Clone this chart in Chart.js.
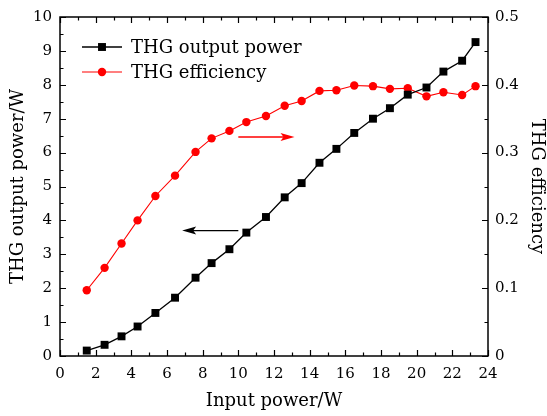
<!DOCTYPE html>
<html>
<head>
<meta charset="utf-8">
<script src="https://cdn.jsdelivr.net/npm/chart.js@4.4.1/dist/chart.umd.min.js"></script>
<style>
  html, body { margin: 0; padding: 0; background: #fff; }
  #wrap { width: 547px; height: 416px; }
</style>
</head>
<body>
<div id="wrap"><canvas id="thgChart" width="547" height="416"></canvas></div>
<script>
// input power (W) for each measurement
const inputPower = [1.5, 2.5, 3.45, 4.35, 5.35, 6.45, 7.6, 8.5, 9.5, 10.45, 11.55, 12.6,
    13.55, 14.55, 15.5, 16.5, 17.55, 18.5, 19.5, 20.55, 21.5, 22.55, 23.3];
// THG output power (W), left axis
const outputPower = [0.16, 0.33, 0.58, 0.87, 1.27, 1.72, 2.31, 2.74, 3.15, 3.64, 4.1, 4.68,
    5.1, 5.7, 6.11, 6.58, 7.0, 7.31, 7.71, 7.92, 8.39, 8.71, 9.26];
// THG efficiency, right axis
const efficiency = [0.097, 0.13, 0.166, 0.2, 0.236, 0.266, 0.301, 0.321, 0.332, 0.345, 0.354, 0.369,
    0.376, 0.391, 0.392, 0.399, 0.398, 0.394, 0.395, 0.383, 0.389, 0.385, 0.398];

const xTicks = [0, 2, 4, 6, 8, 10, 12, 14, 16, 18, 20, 22, 24];
const leftTicks = [0, 1, 2, 3, 4, 5, 6, 7, 8, 9, 10];
const rightTicks = [0, 0.1, 0.2, 0.3, 0.4, 0.5];

// arrows telling which curve belongs to which axis: [x from, x to, y on left axis]
const redArrow = [10.0, 13.15, 6.46];
const blackArrow = [10.0, 6.85, 3.70];

const FONT = "'DejaVu Serif', 'Liberation Serif', serif";

document.addEventListener("DOMContentLoaded", function () {
    let ctx = document.getElementById("thgChart").getContext("2d");

    function arrow(c, x1, x2, y, color) {
        let dir = x2 > x1 ? 1 : -1;
        c.strokeStyle = color;
        c.fillStyle = color;
        c.lineWidth = 1.3;
        c.beginPath();
        c.moveTo(x1, y);
        c.lineTo(x2 - dir * 10, y);
        c.stroke();
        c.beginPath();
        c.moveTo(x2, y);
        c.lineTo(x2 - dir * 14, y - 4);
        c.lineTo(x2 - dir * 11, y);
        c.lineTo(x2 - dir * 14, y + 4);
        c.closePath();
        c.fill();
    }

    // frame, inward ticks on all sides, legend and arrows
    const decorPlugin = {
        id: "decor",
        afterDatasetsDraw(chart) {
            let c = chart.ctx;
            let a = chart.chartArea;
            let sx = chart.scales.x, sy = chart.scales.y, sr = chart.scales.y1;
            c.save();
            c.strokeStyle = "#000";
            c.lineWidth = 1.5;
            c.strokeRect(a.left, a.top, a.right - a.left, a.bottom - a.top);
            c.lineWidth = 1.2;
            c.beginPath();
            for (let v = 0; v <= 24; v += 1) {
                let px = Math.round(sx.getPixelForValue(v)) + 0.5;
                let len = v % 2 === 0 ? 6 : 3.5;
                c.moveTo(px, a.bottom); c.lineTo(px, a.bottom - len);
                c.moveTo(px, a.top); c.lineTo(px, a.top + len);
            }
            for (let v = 0; v <= 20; v++) {
                let py = Math.round(sy.getPixelForValue(v / 2)) + 0.5;
                let len = v % 2 === 0 ? 6 : 3.5;
                c.moveTo(a.left, py); c.lineTo(a.left + len, py);
            }
            for (let v = 0; v <= 10; v++) {
                let py = Math.round(sr.getPixelForValue(v * 0.05)) + 0.5;
                let len = v % 2 === 0 ? 6 : 3.5;
                c.moveTo(a.right, py); c.lineTo(a.right - len, py);
            }
            c.stroke();

            arrow(c, sx.getPixelForValue(redArrow[0]), sx.getPixelForValue(redArrow[1]),
                sy.getPixelForValue(redArrow[2]), "#ff0000");
            arrow(c, sx.getPixelForValue(blackArrow[0]), sx.getPixelForValue(blackArrow[1]),
                sy.getPixelForValue(blackArrow[2]), "#000000");

            // legend
            let lx = a.left + 22, ly = a.top + 30;
            chart.data.datasets.forEach(function (ds, i) {
                let y = ly + i * 25;
                c.strokeStyle = ds.borderColor;
                c.lineWidth = ds.borderWidth;
                c.beginPath();
                c.moveTo(lx, y); c.lineTo(lx + 40, y);
                c.stroke();
                c.fillStyle = ds.pointBackgroundColor;
                c.beginPath();
                if (ds.pointStyle === "rect") {
                    let s = Math.SQRT1_2 * ds.pointRadius;
                    c.rect(lx + 20 - s, y - s, 2 * s, 2 * s);
                } else {
                    c.arc(lx + 20, y, ds.pointRadius, 0, Math.PI * 2);
                }
                c.fill();
                c.fillStyle = "#000";
                c.font = "18px " + FONT;
                c.textBaseline = "middle";
                c.fillText(ds.label, lx + 49, y + 1);
            });
            c.restore();
        }
    };

    let thgChart = new Chart(ctx, {
        type: "line",
        data: {
            datasets: [{
                label: "THG output power",
                data: inputPower.map((x, i) => ({ x: x, y: outputPower[i] })),
                yAxisID: "y",
                borderColor: "#000000",
                backgroundColor: "#000000",
                pointBackgroundColor: "#000000",
                borderWidth: 1.3,
                pointStyle: "rect",
                pointRadius: 5.6,
                pointBorderWidth: 0,
                tension: 0
            }, {
                label: "THG efficiency",
                data: inputPower.map((x, i) => ({ x: x, y: efficiency[i] })),
                yAxisID: "y1",
                borderColor: "#ff0000",
                backgroundColor: "#ff0000",
                pointBackgroundColor: "#ff0000",
                borderWidth: 1.1,
                pointStyle: "circle",
                pointRadius: 4.2,
                pointBorderWidth: 0,
                tension: 0
            }]
        },
        options: {
            responsive: false,
            animation: false,
            layout: { padding: { top: 14, left: 0, right: 0, bottom: 0 } },
            plugins: {
                legend: { display: false },
                tooltip: { enabled: false }
            },
            scales: {
                x: {
                    type: "linear",
                    min: 0, max: 24,
                    afterBuildTicks: s => { s.ticks = xTicks.map(v => ({ value: v })); },
                    afterFit: s => { s.height = 60; },
                    grid: { display: false, drawTicks: false },
                    border: { display: false },
                    ticks: { color: "#000", padding: 9, maxRotation: 0, font: { family: FONT, size: 15 } },
                    title: { display: true, text: "Input power/W", color: "#000",
                        padding: { top: 4, bottom: 4 }, font: { family: FONT, size: 18 } }
                },
                y: {
                    type: "linear",
                    position: "left",
                    min: 0, max: 10,
                    afterBuildTicks: s => { s.ticks = leftTicks.map(v => ({ value: v })); },
                    afterFit: s => { s.width = 60; },
                    grid: { display: false, drawTicks: false },
                    border: { display: false },
                    ticks: { color: "#000", padding: 8, font: { family: FONT, size: 15 } },
                    title: { display: true, text: "THG output power/W", color: "#000",
                        padding: { top: 8, bottom: 4 }, font: { family: FONT, size: 18 } }
                },
                y1: {
                    type: "linear",
                    position: "right",
                    min: 0, max: 0.5,
                    afterBuildTicks: s => { s.ticks = rightTicks.map(v => ({ value: v })); },
                    afterFit: s => { s.width = 59; },
                    grid: { display: false, drawTicks: false },
                    border: { display: false },
                    ticks: { color: "#000", padding: 7, font: { family: FONT, size: 15 },
                        callback: v => v === 0 ? "0" : v.toFixed(1) },
                    title: { display: true, text: "THG efficiency", color: "#000",
                        padding: { top: 0, bottom: 0 }, font: { family: FONT, size: 18 } }
                }
            }
        },
        plugins: [decorPlugin]
    });
});
</script>
</body>
</html>
